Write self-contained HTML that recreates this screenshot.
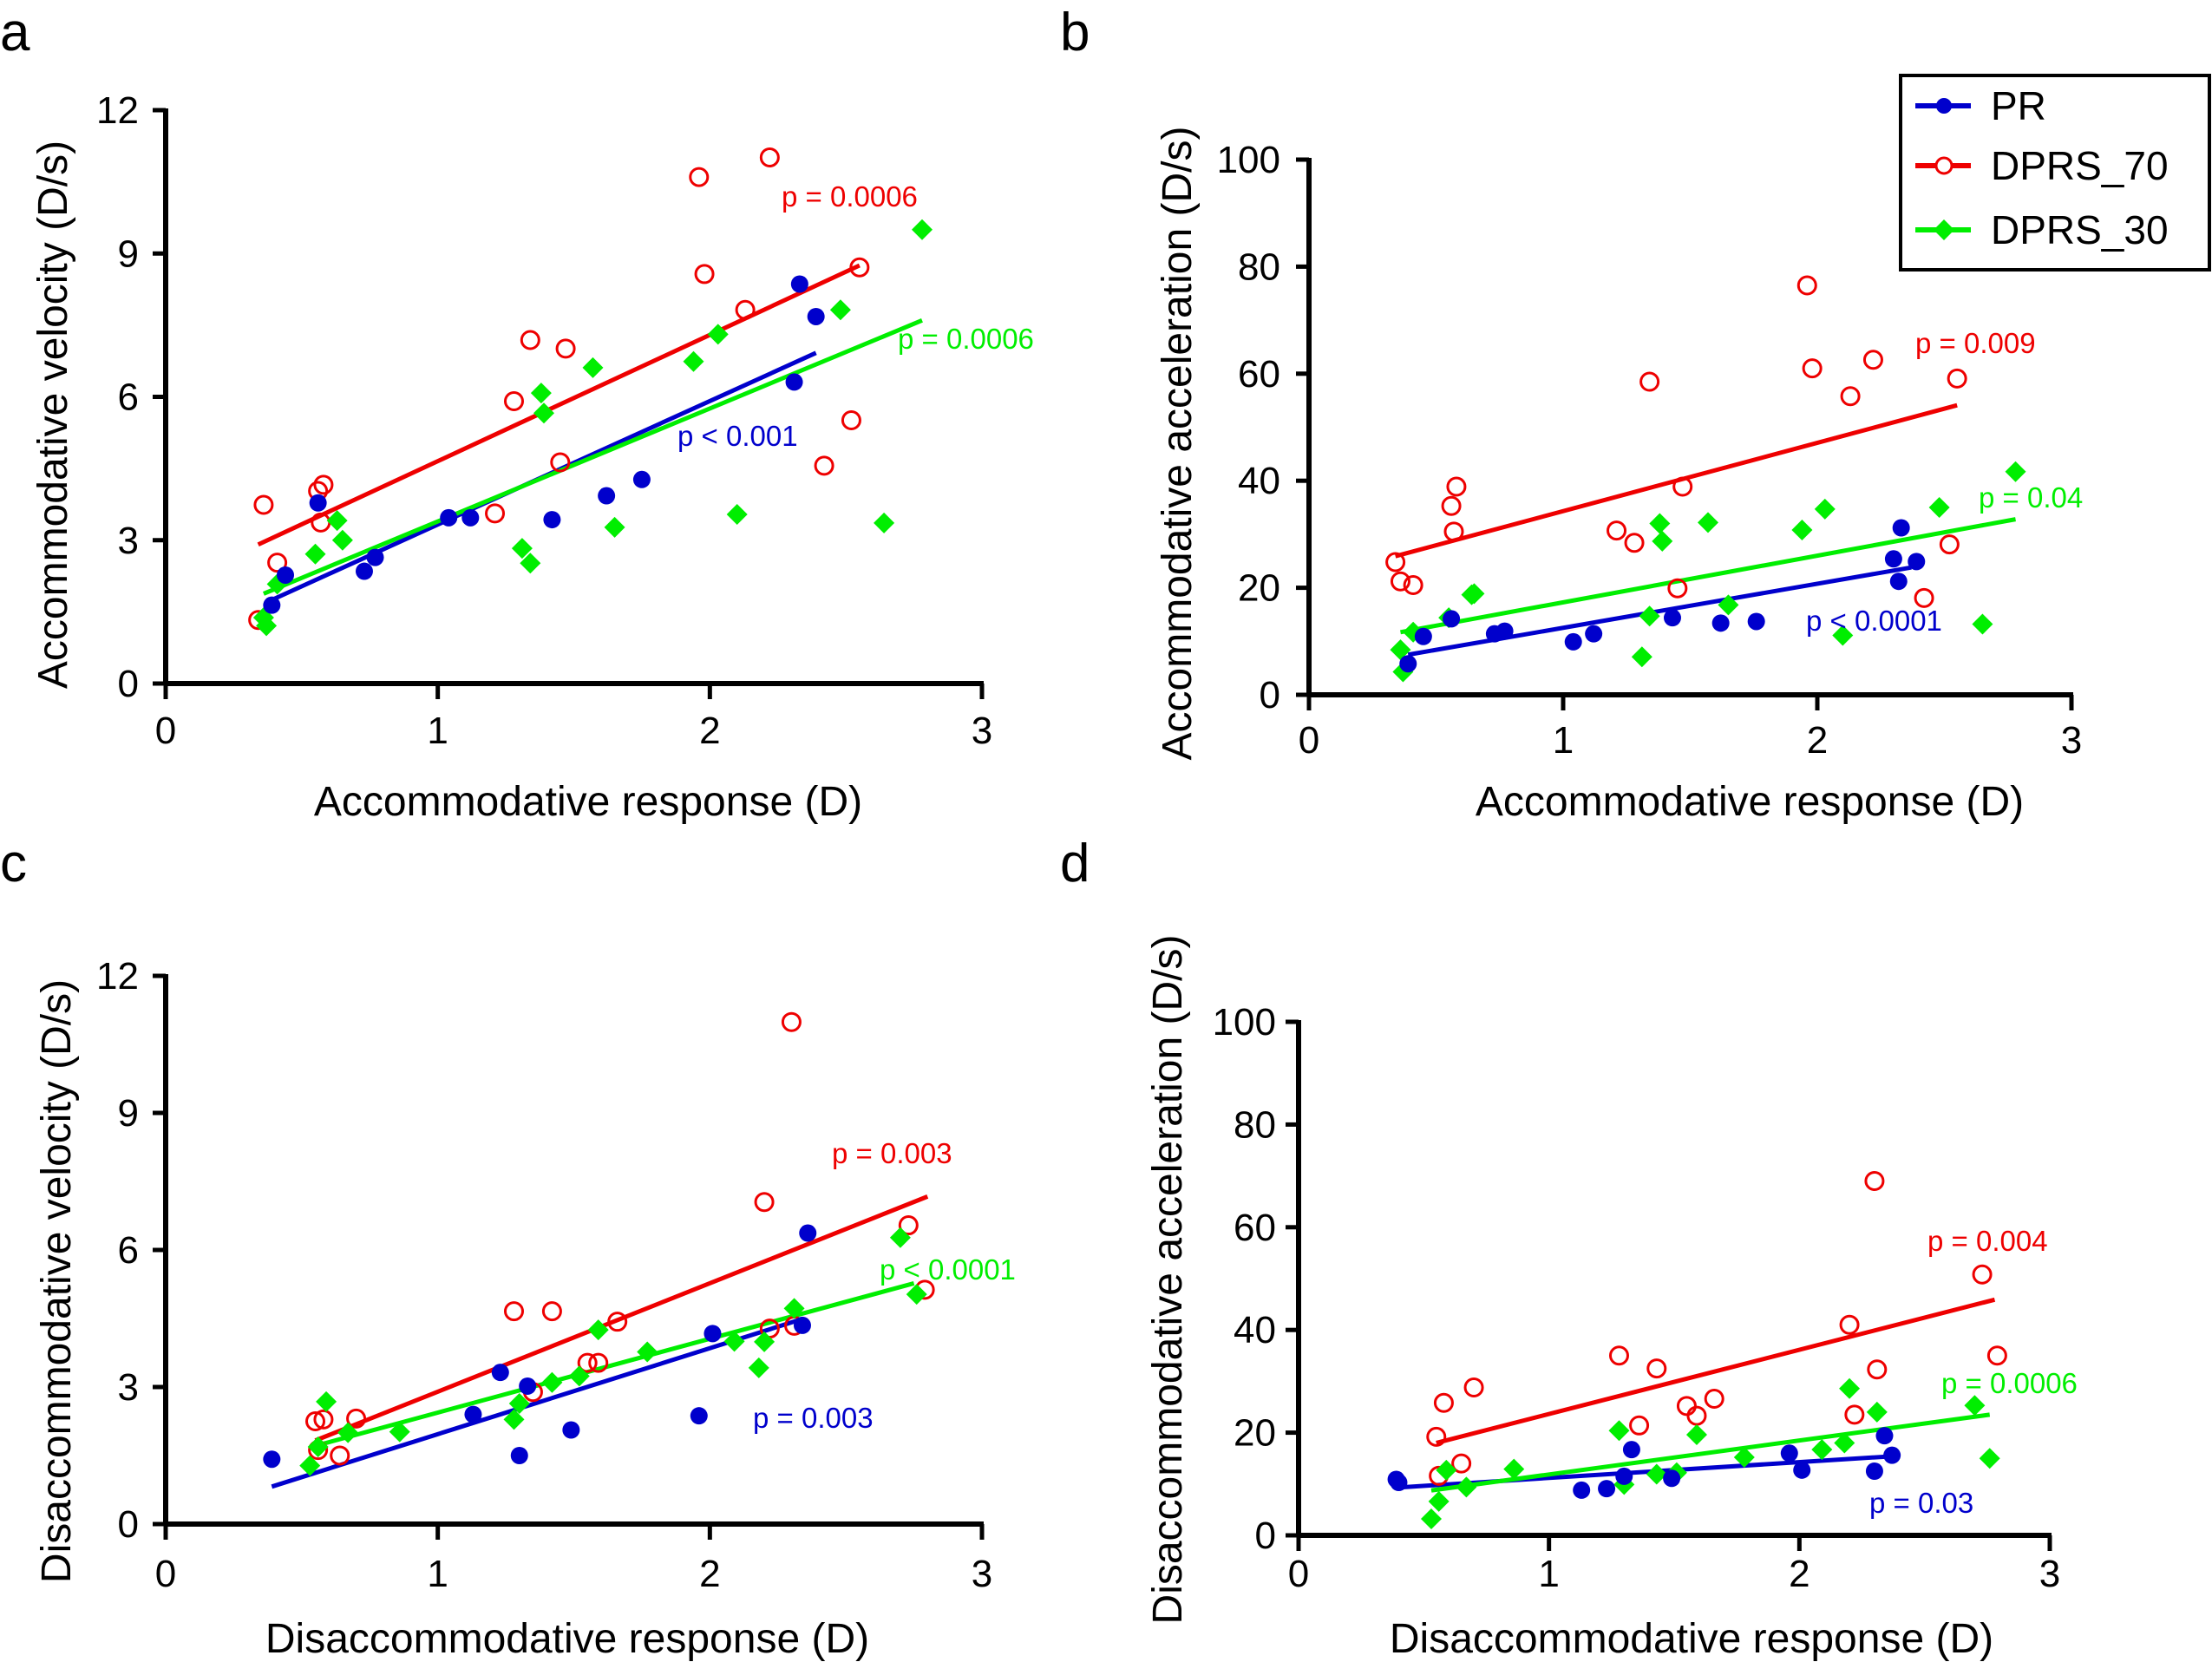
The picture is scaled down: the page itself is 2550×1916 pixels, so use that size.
<!DOCTYPE html>
<html><head><meta charset="utf-8"><style>
html,body{margin:0;padding:0;background:#fff;}
svg{display:block;font-family:"Liberation Sans",Arial,sans-serif;}
</style></head><body>
<svg id="fig" width="2550" height="1916" viewBox="0 0 2550 1916" xmlns="http://www.w3.org/2000/svg">
<rect width="2550" height="1916" fill="#fff"/>
<text x="0" y="58" font-size="62">a</text>
<text x="1222" y="58" font-size="62">b</text>
<text x="0" y="1016" font-size="62">c</text>
<text x="1222" y="1016" font-size="62">d</text>
<g id="legend">
<rect x="2191" y="87" width="356" height="224" fill="#fff" stroke="#000" stroke-width="4"/>
<g><line x1="2208" y1="122" x2="2272" y2="122" stroke="#0000cc" stroke-width="6"/><circle cx="2241" cy="122" r="9" fill="#0000cc"/><text x="2295" y="138" font-size="46">PR</text></g>
<g><line x1="2208" y1="191" x2="2272" y2="191" stroke="#ee0000" stroke-width="6"/><circle cx="2241" cy="191" r="9" fill="#fff" stroke="#ee0000" stroke-width="3"/><text x="2295" y="207" font-size="46">DPRS_70</text></g>
<g><line x1="2208" y1="265" x2="2272" y2="265" stroke="#00ee00" stroke-width="6"/><path d="M2241 253 L2253 265 L2241 277 L2229 265 Z" fill="#00ee00"/><text x="2295" y="281" font-size="46">DPRS_30</text></g>
</g>
</svg>
<script>
// ---------- Panel a data ----------
const aRedX=[0.36,0.34,0.41,0.56,0.58,0.57,1.21,1.28,1.34,1.47,1.45,1.96,1.98,2.13,2.22,2.55,2.52,2.42];
const aRedY=[3.74,1.33,2.53,4.03,4.16,3.37,3.56,5.91,7.19,7.01,4.63,10.6,8.57,7.82,11.01,8.71,5.51,4.56];
const aBlueX=[0.39,0.44,0.56,0.73,0.77,1.04,1.12,1.42,1.62,1.75,2.31,2.33,2.39];
const aBlueY=[1.64,2.27,3.78,2.35,2.64,3.47,3.47,3.43,3.93,4.27,6.31,8.36,7.68];
const aGreenX=[0.36,0.37,0.41,0.55,0.63,0.65,1.31,1.34,1.38,1.39,1.57,1.65,1.94,2.03,2.10,2.48,2.64,2.78];
const aGreenY=[1.38,1.21,2.08,2.71,3.41,3.0,2.83,2.52,6.08,5.66,6.61,3.27,6.74,7.31,3.54,7.82,3.36,9.5];
const aFitRed=[[0.34,2.91],[2.55,8.75]];
const aFitBlue=[[0.39,1.75],[2.39,6.92]];
const aFitGreen=[[0.36,1.88],[2.78,7.6]];
// ---------- Panel b data ----------
const bRedX=[0.34,0.36,0.41,0.56,0.58,0.57,1.21,1.28,1.34,1.47,1.45,1.96,1.98,2.13,2.22,2.55,2.52,2.42];
const bRedY=[24.8,21.2,20.5,35.3,38.9,30.5,30.7,28.4,58.5,38.9,19.9,76.5,61.0,55.8,62.6,59.1,28.1,18.1];
const bBlueX=[0.39,0.45,0.56,0.73,0.77,1.04,1.12,1.43,1.62,1.76,2.30,2.33,2.32,2.39];
const bBlueY=[5.8,10.9,14.2,11.4,11.9,9.9,11.4,14.4,13.4,13.7,25.4,31.2,21.2,24.9];
const bGreenX=[0.36,0.37,0.41,0.55,0.64,0.65,1.31,1.34,1.38,1.39,1.57,1.65,1.94,2.03,2.10,2.48,2.65,2.78];
const bGreenY=[8.4,4.3,11.7,14.4,18.7,18.9,7.1,14.7,32.0,28.7,32.2,16.8,30.8,34.7,11.1,35.0,13.2,41.7];
const bFitRed=[[0.34,25.9],[2.55,54.1]];
const bFitBlue=[[0.39,7.5],[2.37,23.8]];
const bFitGreen=[[0.36,11.7],[2.78,32.8]];
// ---------- Panel c data ----------
const cRedX=[0.55,0.58,0.56,0.64,0.70,1.28,1.42,1.35,1.55,1.59,1.66,2.20,2.30,2.22,2.31,2.73,2.79];
const cRedY=[2.25,2.29,1.62,1.50,2.31,4.66,4.66,2.89,3.53,3.53,4.43,7.05,10.99,4.28,4.34,6.54,5.13];
const cBlueX=[0.39,1.13,1.23,1.33,1.30,1.49,1.96,2.01,2.34,2.36];
const cBlueY=[1.42,2.40,3.32,3.02,1.50,2.06,2.37,4.17,4.35,6.37];
const cGreenX=[0.53,0.56,0.59,0.67,0.86,1.28,1.30,1.42,1.52,1.59,1.77,2.09,2.18,2.20,2.31,2.70,2.76];
const cGreenY=[1.28,1.69,2.68,2.0,2.02,2.29,2.64,3.10,3.24,4.25,3.77,4.0,3.42,3.99,4.72,6.27,5.03];
const cFitRed=[[0.55,1.83],[2.80,7.17]];
const cFitBlue=[[0.39,0.82],[2.34,4.49]];
const cFitGreen=[[0.53,1.68],[2.75,5.27]];
// ---------- Panel d data ----------
const dRedX=[0.55,0.56,0.58,0.65,0.70,1.28,1.36,1.43,1.55,1.59,1.66,2.20,2.22,2.30,2.31,2.73,2.79];
const dRedY=[19.2,11.6,25.8,14.0,28.8,35.0,21.4,32.5,25.2,23.3,26.6,41.0,23.5,69.0,32.3,50.8,35.0];
const dBlueX=[0.39,0.40,1.13,1.23,1.33,1.30,1.49,1.96,2.01,2.30,2.34,2.37];
const dBlueY=[10.9,10.3,8.8,9.1,16.7,11.5,11.1,16.0,12.7,12.5,19.4,15.6];
const dGreenX=[0.53,0.56,0.59,0.67,0.86,1.28,1.30,1.43,1.51,1.59,1.78,2.09,2.18,2.20,2.31,2.70,2.76];
const dGreenY=[3.2,6.6,12.7,9.4,12.9,20.4,9.9,11.9,12.2,19.6,15.2,16.7,18.0,28.6,24.0,25.3,15.0];
const dFitRed=[[0.55,18.0],[2.78,45.9]];
const dFitBlue=[[0.39,9.3],[2.37,15.4]];
const dFitGreen=[[0.53,8.75],[2.76,23.5]];
// ---------- tick labels ----------
const xTicks=[0,1,2,3];
const velTicks=[0,3,6,9,12];
const accTicks=[0,20,40,60,80,100];

const NS="http://www.w3.org/2000/svg";
const svg=document.getElementById('fig');
const BLUE="#0000cc",RED="#ee0000",GREEN="#00ee00";
function mk(tag,attrs,parent){const e=document.createElementNS(NS,tag);for(const k in attrs)e.setAttribute(k,attrs[k]);(parent||svg).appendChild(e);return e;}

const panels=[
 {id:'a',x0:191,x3:1132,y0:788,yTop:127,yMax:12,ticks:velTicks,yLabR:160,xLabY:857,
  ytitle:'Accommodative velocity (D/s)',ytx:60,yty:478,xtitle:'Accommodative response (D)',xtx:678,xty:940,
  red:[aRedX,aRedY],blue:[aBlueX,aBlueY],green:[aGreenX,aGreenY],fits:[aFitRed,aFitBlue,aFitGreen],
  p:[['p = 0.0006',901,238,RED],['p < 0.001',781,514,BLUE],['p = 0.0006',1035,402,GREEN]]},
 {id:'b',x0:1509,x3:2388,y0:801,yTop:184,yMax:100,ticks:accTicks,yLabR:1476,xLabY:868,
  ytitle:'Accommodative acceleration (D/s)',ytx:1356,yty:511,xtitle:'Accommodative response (D)',xtx:2017,xty:940,
  red:[bRedX,bRedY],blue:[bBlueX,bBlueY],green:[bGreenX,bGreenY],fits:[bFitRed,bFitBlue,bFitGreen],
  p:[['p = 0.009',2208,407,RED],['p = 0.04',2281,585,GREEN],['p < 0.0001',2082,727,BLUE]]},
 {id:'c',x0:191,x3:1132,y0:1757,yTop:1125,yMax:12,ticks:velTicks,yLabR:160,xLabY:1829,
  ytitle:'Disaccommodative velocity (D/s)',ytx:64,yty:1477,xtitle:'Disaccommodative response (D)',xtx:654,xty:1905,
  red:[cRedX,cRedY],blue:[cBlueX,cBlueY],green:[cGreenX,cGreenY],fits:[cFitRed,cFitBlue,cFitGreen],
  p:[['p = 0.003',959,1341,RED],['p < 0.0001',1014,1475,GREEN],['p = 0.003',868,1646,BLUE]]},
 {id:'d',x0:1497,x3:2363,y0:1770,yTop:1178,yMax:100,ticks:accTicks,yLabR:1471,xLabY:1829,
  ytitle:'Disaccommodative acceleration (D/s)',ytx:1345,yty:1475,xtitle:'Disaccommodative response (D)',xtx:1950,xty:1905,
  red:[dRedX,dRedY],blue:[dBlueX,dBlueY],green:[dGreenX,dGreenY],fits:[dFitRed,dFitBlue,dFitGreen],
  p:[['p = 0.004',2222,1442,RED],['p = 0.0006',2238,1606,GREEN],['p = 0.03',2155,1744,BLUE]]}
];

panels.forEach(P=>{
 const sx=v=>P.x0+(P.x3-P.x0)*v/3;
 const sy=v=>P.y0-(P.y0-P.yTop)*v/P.yMax;
 const g=mk('g',{});
 
 
 // axes
 const ax=mk('g',{},g);
 
 
 mk('line',{x1:P.x0-2,y1:P.y0,x2:P.x3+2,y2:P.y0,stroke:'#000','stroke-width':6},ax);
 mk('line',{x1:P.x0,y1:P.y0+2,x2:P.x0,y2:P.yTop-2,stroke:'#000','stroke-width':6},ax);
 xTicks.forEach(t=>{
  mk('line',{x1:sx(t),y1:P.y0,x2:sx(t),y2:P.y0+18,stroke:'#000','stroke-width':5},ax);
  const tl=mk('text',{x:sx(t),y:P.xLabY,'font-size':44,'text-anchor':'middle'},ax);
  tl.textContent=t;
  
  
 });
 P.ticks.forEach(t=>{
  mk('line',{x1:P.x0-15,y1:sy(t),x2:P.x0,y2:sy(t),stroke:'#000','stroke-width':5},ax);
  const tl=mk('text',{x:P.yLabR,y:sy(t)+15,'font-size':44,'text-anchor':'end'},ax);
  tl.textContent=t;
  
  
 });
 const yt=mk('text',{x:P.ytx,y:P.yty,'font-size':48,'text-anchor':'middle',transform:`rotate(-90 ${P.ytx} ${P.yty})`,dy:17},g);
 yt.textContent=P.ytitle;
 
 
 const xt=mk('text',{x:P.xtx,y:P.xty,'font-size':48,'text-anchor':'middle'},g);
 xt.textContent=P.xtitle;
 
 
 // fits
 const cols=[RED,BLUE,GREEN],names=['fit-line-dprs70','fit-line-pr','fit-line-dprs30'];
 P.fits.forEach((f,i)=>{
  const l=mk('line',{x1:sx(f[0][0]),y1:sy(f[0][1]),x2:sx(f[1][0]),y2:sy(f[1][1]),stroke:cols[i],'stroke-width':5},g);
  
  
 });
 // points
 P.red[0].forEach((x,i)=>{
  const c=mk('circle',{cx:sx(x),cy:sy(P.red[1][i]),r:10,fill:'none',stroke:RED,'stroke-width':3},g);
  
  
 });
 P.green[0].forEach((x,i)=>{
  const cx=sx(x),cy=sy(P.green[1][i]),r=12;
  const d=mk('path',{d:`M${cx} ${cy-r} L${cx+r} ${cy} L${cx} ${cy+r} L${cx-r} ${cy} Z`,fill:GREEN},g);
  
  
 });
 P.blue[0].forEach((x,i)=>{
  const c=mk('circle',{cx:sx(x),cy:sy(P.blue[1][i]),r:10,fill:BLUE},g);
  
  
 });
 P.p.forEach(p=>{
  const t=mk('text',{x:p[1],y:p[2],'font-size':33,fill:p[3]},g);
  t.textContent=p[0];
  
  
 });
});
svg.appendChild(document.getElementById('legend'));
</script>
</body></html>
